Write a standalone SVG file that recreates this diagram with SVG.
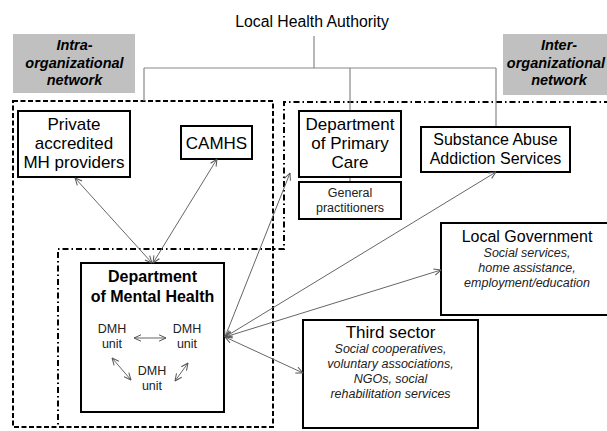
<svg xmlns="http://www.w3.org/2000/svg" width="607" height="431" viewBox="0 0 607 431">
  <style>
    text { font-family: "Liberation Sans", Arial, sans-serif; fill: #000; }
    .c { text-anchor: middle; }
    .box { fill: #fff; stroke: #000; stroke-width: 2; }
    .band { fill: #c0c0c0; }
    .net { font-weight: bold; font-style: italic; font-size: 14.5px; }
    .t17 { font-size: 17px; }
    .t16 { font-size: 16px; }
    .small { font-size: 12.5px; fill: #222; }
    .it { font-size: 12.5px; font-style: italic; fill: #222; }
    .tree { fill: none; stroke: #888; stroke-width: 1.2; }
    .link { fill: none; stroke: #666; stroke-width: 1; marker-start: url(#ah); marker-end: url(#ah); }
    .dash { fill: none; stroke: #000; stroke-width: 2; stroke-dasharray: 5 2.5; }
    .dashdot { fill: none; stroke: #000; stroke-width: 2; stroke-dasharray: 6 3 1.5 3; }
  </style>
  <defs>
    <marker id="ah" viewBox="0 0 8 8" refX="7.5" refY="4" markerWidth="8" markerHeight="8" markerUnits="userSpaceOnUse" orient="auto-start-reverse">
      <path d="M0.5,0.8 L7.5,4 L0.5,7.2" fill="none" stroke="#555" stroke-width="1"/>
    </marker>
  </defs>

  <rect width="607" height="431" fill="#fff"/>

  <!-- network labels -->
  <g id="intra-label">
    <rect class="band" x="13" y="34" width="122" height="59"/>
    <text class="net c" x="74.5" y="50">Intra-</text>
    <text class="net c" x="74.5" y="68">organizational</text>
    <text class="net c" x="74.5" y="85">network</text>
  </g>
  <g id="inter-label">
    <rect class="band" x="503" y="34" width="110" height="61"/>
    <text class="net c" x="559" y="50">Inter-</text>
    <text class="net c" x="556" y="68">organizational</text>
    <text class="net c" x="559" y="85">network</text>
  </g>

  <!-- network boundaries -->
  <g id="boundaries">
    <rect class="dash" x="13" y="101" width="260" height="326"/>
    <path class="dashdot" d="M610,102 H284 V249 H58 V427"/>
  </g>

  <!-- authority tree -->
  <g id="tree">
    <path class="tree" d="M314,36 V68 M144,68 H496 M144,68 V101 M350,68 V111 M496,68 V127 M350,177 V182"/>
  </g>

  <g id="lha">
    <text class="c" x="312" y="27" font-size="15.8">Local Health Authority</text>
  </g>

  <g id="private">
    <rect class="box" x="18" y="111" width="112" height="66"/>
    <text class="t17 c" x="74" y="130">Private</text>
    <text class="t17 c" x="74" y="149">accredited</text>
    <text class="t17 c" x="74" y="168">MH providers</text>
  </g>

  <g id="camhs">
    <rect class="box" x="181" y="126" width="71" height="33"/>
    <text class="t17 c" x="216.5" y="149">CAMHS</text>
  </g>

  <g id="primary-care">
    <rect class="box" x="299" y="111" width="102" height="66"/>
    <text class="t17 c" x="350" y="130">Department</text>
    <text class="t17 c" x="350" y="149">of Primary</text>
    <text class="t17 c" x="350" y="168">Care</text>
  </g>

  <g id="gp">
    <rect class="box" x="299" y="182" width="102" height="37"/>
    <text class="small c" x="350" y="197">General</text>
    <text class="small c" x="350" y="212">practitioners</text>
  </g>

  <g id="substance">
    <rect class="box" x="421" y="127" width="149" height="45"/>
    <text class="t16 c" x="495.5" y="145">Substance Abuse</text>
    <text class="t16 c" x="495.5" y="164">Addiction Services</text>
  </g>

  <g id="local-government">
    <rect class="box" x="441" y="223" width="175" height="92"/>
    <text class="t16 c" x="527" y="242">Local Government</text>
    <text class="it c" x="527" y="257">Social services,</text>
    <text class="it c" x="527" y="272">home assistance,</text>
    <text class="it c" x="527" y="287">employment/education</text>
  </g>

  <g id="third-sector">
    <rect class="box" x="303" y="320" width="175" height="108"/>
    <text class="t17 c" x="390.5" y="338">Third sector</text>
    <text class="it c" x="390.5" y="353">Social cooperatives,</text>
    <text class="it c" x="390.5" y="368">voluntary associations,</text>
    <text class="it c" x="390.5" y="383">NGOs, social</text>
    <text class="it c" x="390.5" y="398">rehabilitation services</text>
  </g>

  <g id="dmh">
    <rect class="box" x="81" y="263" width="143" height="149"/>
    <text class="t16 c" x="152.5" y="282" font-weight="bold">Department</text>
    <text class="t16 c" x="152.5" y="302" font-weight="bold">of Mental Health</text>
    <g id="dmh-unit-1">
      <text class="small c" x="112" y="333">DMH</text>
      <text class="small c" x="112" y="348">unit</text>
    </g>
    <g id="dmh-unit-2">
      <text class="small c" x="187" y="333">DMH</text>
      <text class="small c" x="187" y="348">unit</text>
    </g>
    <g id="dmh-unit-3">
      <text class="small c" x="152" y="375">DMH</text>
      <text class="small c" x="152" y="390">unit</text>
    </g>
  </g>

  <!-- connectors -->
  <g id="connectors">
    <line class="link" x1="75" y1="178" x2="152" y2="263"/>
    <line class="link" x1="217" y1="159" x2="153" y2="263"/>
    <line class="link" x1="225" y1="337" x2="290" y2="173"/>
    <line class="link" x1="225" y1="337" x2="496" y2="172"/>
    <line class="link" x1="225" y1="337" x2="441" y2="270"/>
    <line class="link" x1="225" y1="337" x2="303" y2="373"/>
    <line class="link" x1="134" y1="338" x2="166" y2="338"/>
    <line class="link" x1="112" y1="358" x2="131" y2="380"/>
    <line class="link" x1="175" y1="381" x2="188" y2="363"/>
  </g>
</svg>
